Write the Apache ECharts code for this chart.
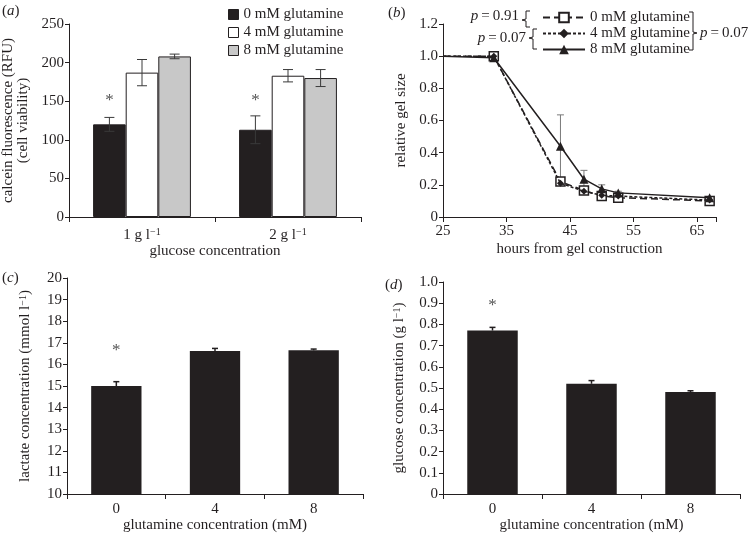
<!DOCTYPE html>
<html><head><meta charset="utf-8">
<script src="https://cdn.jsdelivr.net/npm/echarts@6/dist/echarts.min.js"></script>
<style>html,body{margin:0;padding:0;background:#fff}#c{width:748px;height:538px}</style>
</head><body><div id="c"></div>
<script>
// ---------- Panel (a) ----------
const glucoseCats = ['1 g l', '2 g l'];           // each followed by superscript −1
const glutNames = ['0 mM glutamine', '4 mM glutamine', '8 mM glutamine'];
const calcein0 = [120, 113];
const calcein4 = [187, 183];
const calcein8 = [208, 180];
const calceinErr0 = [9, 18];
const calceinErr4 = [17, 8];
const calceinErr8 = [3, 11];
const calceinStar = [151, 151];

// ---------- Panel (b) ----------
const hours = [25, 33, 43.5, 47.2, 50, 52.6, 67];
const gel0 = [1, 1.0, 0.22, 0.165, 0.13, 0.12, 0.10];
const gel4 = [1, 1.0, 0.21, 0.16, 0.135, 0.13, 0.105];
const gel8 = [1, 0.99, 0.44, 0.235, 0.175, 0.15, 0.12];
const gelErr8 = [0, 0, 0.195, 0.055, 0.025, 0.01, 0.005];
const gelIds = ['b0', 'b4', 'b8'];
const hourTicks = [25, 35, 45, 55, 65];
const pLeft1 = '0.91', pLeft2 = '0.07', pRight = '0.07';

// ---------- Panel (c) ----------
const glutCats = ['0', '4', '8'];
const lactate = [15.0, 16.62, 16.65];
const lactateErr = [0.2, 0.12, 0.06];
const lactateStar = [16.62, null, null];

// ---------- Panel (d) ----------
const glucose = [0.771, 0.52, 0.481];
const glucoseErr = [0.015, 0.015, 0.006];
const glucoseStar = [0.89, null, null];

const FONT = "'Liberation Serif','Times New Roman',serif";
const INK = '#231f20';

const chart = echarts.init(document.getElementById('c'), null, {renderer: 'canvas'});

function fmt1(v) { return v === 0 ? '0' : v.toFixed(1); }
const SUP = {sup: {fontFamily: FONT, fontSize: 10, color: INK, verticalAlign: 'top', padding: [0, 0, 6, 0]}};

function yAx(gi, min, max, interval, name, nameGap, formatter) {
  return {
    type: 'value', gridIndex: gi, min, max, interval,
    name, nameLocation: 'middle', nameGap, nameRotate: 90,
    nameTextStyle: {fontFamily: FONT, fontSize: 15, color: INK, lineHeight: 15, rich: SUP},
    axisLine: {show: true, lineStyle: {color: INK, width: 1}},
    axisTick: {show: true, length: 4, lineStyle: {color: INK, width: 1}},
    axisLabel: {fontFamily: FONT, fontSize: 15, color: INK, margin: 5, formatter},
    splitLine: {show: false}
  };
}
function xCat(gi, data, name, nameGap, margin, formatter) {
  return {
    type: 'category', gridIndex: gi, data,
    name, nameLocation: 'middle', nameGap,
    nameTextStyle: {fontFamily: FONT, fontSize: 15, color: INK},
    axisLine: {show: true, lineStyle: {color: INK, width: 1}},
    axisTick: {show: true, length: 5, lineStyle: {color: INK, width: 1}},
    axisLabel: {fontFamily: FONT, fontSize: 15, color: INK, margin, formatter, rich: SUP},
    splitLine: {show: false}
  };
}

// error bars: data rows [x, value, err]
function errSeries(xi, yi, rows, opts) {
  return {
    type: 'custom', xAxisIndex: xi, yAxisIndex: yi, z: opts.z || 5,
    data: rows, silent: true,
    renderItem: function (params, api) {
      const xv = api.value(0), v = api.value(1), e = api.value(2);
      if (!e) return null;
      const base = api.coord([xv, v]);
      const x = base[0] + (opts.offset ? opts.offset(api) : 0);
      const top = api.coord([xv, v + e])[1];
      const bot = opts.upperOnly ? base[1] : api.coord([xv, v - e])[1];
      const h = opts.cap / 2;
      const st = {stroke: opts.color, lineWidth: opts.width || 1};
      const ch = [
        {type: 'line', shape: {x1: x, y1: top, x2: x, y2: bot}, style: st},
        {type: 'line', shape: {x1: x - h, y1: top, x2: x + h, y2: top}, style: st}
      ];
      if (!opts.upperOnly) ch.push({type: 'line', shape: {x1: x - h, y1: bot, x2: x + h, y2: bot}, style: st});
      return {type: 'group', children: ch};
    }
  };
}
function starSeries(xi, yi, rows, offset) {
  return {
    type: 'custom', xAxisIndex: xi, yAxisIndex: yi, z: 6, silent: true,
    data: rows,
    renderItem: function (params, api) {
      const v = api.value(1);
      if (v == null || isNaN(v)) return null;
      const p = api.coord([api.value(0), v]);
      return {type: 'text', x: p[0] + (offset ? offset(api) : 0), y: p[1],
        style: {text: '*', fill: '#555', fontSize: 17, fontFamily: FONT, align: 'center', verticalAlign: 'middle'}};
    }
  };
}

const GAP_A = 0.33;
function offA(k) {
  return function (api) { const band = api.size([1, 0])[0]; const bw = band * (1 - GAP_A) / 3; return (k - 1) * bw; };
}
const rows = (vals, errs) => vals.map((v, i) => [i, v, errs[i]]);

const rich = {i: {fontStyle: 'italic', fontFamily: FONT, fontSize: 15, fill: INK}, n: {fontFamily: FONT, fontSize: 15, fill: INK}};
function ptext(x, y, p, align) {
  return {type: 'text', x, y, style: {text: '{i|p}{n|\u2009=\u2009' + p + '}', rich, align: align || 'left', verticalAlign: 'middle', fontFamily: FONT, fontSize: 15, fill: INK}};
}
function plabel(x, y, l) {
  return {type: 'text', x, y, style: {text: '{n|(}{i|' + l + '}{n|)}', rich, verticalAlign: 'middle', fontFamily: FONT, fontSize: 15, fill: INK}};
}
const brStyle = {stroke: INK, lineWidth: 1, fill: null};
const supFmt = v => v + '{sup|\u22121}';

const option = {
  backgroundColor: '#fff',
  animation: false,
  textStyle: {fontFamily: FONT},
  grid: [
    {left: 67, top: 24, width: 294, height: 193},
    {left: 443, top: 24, width: 273, height: 193},
    {left: 67, top: 278, width: 296, height: 216},
    {left: 443, top: 282, width: 297, height: 212}
  ],
  xAxis: [
    xCat(0, glucoseCats, 'glucose concentration', 26, 10, supFmt),
    {
      type: 'value', gridIndex: 1, min: 25, max: 68, interval: 10,
      name: 'hours from gel construction', nameLocation: 'middle', nameGap: 25,
      nameTextStyle: {fontFamily: FONT, fontSize: 15, color: INK},
      axisLine: {show: true, onZero: false, lineStyle: {color: INK, width: 1}},
      axisTick: {show: true, length: 5, lineStyle: {color: INK, width: 1}},
      axisLabel: {fontFamily: FONT, fontSize: 15, color: INK, margin: 7,
        formatter: v => hourTicks.indexOf(v) >= 0 ? String(v) : ''},
      splitLine: {show: false}
    },
    xCat(2, glutCats, 'glutamine concentration (mM)', 20, 8),
    xCat(3, glutCats, 'glutamine concentration (mM)', 20, 8)
  ],
  yAxis: [
    yAx(0, 0, 250, 50, 'calcein fluorescence (RFU)\n(cell viability)', 38),
    yAx(1, 0, 1.2, 0.2, 'relative gel size', 34, fmt1),
    yAx(2, 10, 20, 1, 'lactate concentration (mmol l{sup|\u22121})', 34),
    yAx(3, 0, 1.0, 0.1, 'glucose concentration (g l{sup|\u22121})', 36, fmt1)
  ],
  legend: [
    {
      data: glutNames, left: 223, top: 2, orient: 'vertical', icon: 'rect',
      itemWidth: 10, itemHeight: 10, itemGap: 3, selectedMode: false,
      itemStyle: {borderColor: INK, borderWidth: 1},
      textStyle: {fontFamily: FONT, fontSize: 15, color: INK}
    },
    {
      data: gelIds, left: 537, top: 5, orient: 'vertical',
      itemWidth: 42, itemHeight: 12, itemGap: 1, selectedMode: false,
      formatter: n => glutNames[gelIds.indexOf(n)],
      textStyle: {fontFamily: FONT, fontSize: 15, color: INK}
    }
  ],
  series: [
    // panel a bars
    {name: glutNames[0], type: 'bar', xAxisIndex: 0, yAxisIndex: 0, data: calcein0, barGap: '0%', barCategoryGap: '33%',
      itemStyle: {color: INK, borderColor: INK, borderWidth: 1}},
    {name: glutNames[1], type: 'bar', xAxisIndex: 0, yAxisIndex: 0, data: calcein4, barGap: '0%', barCategoryGap: '33%',
      itemStyle: {color: '#ffffff', borderColor: INK, borderWidth: 1}},
    {name: glutNames[2], type: 'bar', xAxisIndex: 0, yAxisIndex: 0, data: calcein8, barGap: '0%', barCategoryGap: '33%',
      itemStyle: {color: '#c8c8c8', borderColor: INK, borderWidth: 1}},
    errSeries(0, 0, rows(calcein0, calceinErr0), {offset: offA(0), cap: 10, color: '#3a3a3a'}),
    errSeries(0, 0, rows(calcein4, calceinErr4), {offset: offA(1), cap: 10, color: '#3a3a3a'}),
    errSeries(0, 0, rows(calcein8, calceinErr8), {offset: offA(2), cap: 10, color: '#3a3a3a'}),
    starSeries(0, 0, calceinStar.map((v, i) => [i, v]), offA(0)),

    // panel b lines
    errSeries(1, 1, hours.map((h, i) => [h, gel8[i], gelErr8[i]]), {cap: 7, color: '#7a7a7a', z: 1}),
    {name: gelIds[0], type: 'line', xAxisIndex: 1, yAxisIndex: 1, z: 3,
      data: hours.map((h, i) => i === 0 ? {value: [h, gel0[i]], symbol: 'none'} : [h, gel0[i]]),
      symbol: 'rect', symbolSize: 9, showAllSymbol: true,
      lineStyle: {color: INK, width: 1.5, type: [7, 4]},
      itemStyle: {color: '#ffffff', borderColor: INK, borderWidth: 1.5}},
    {name: gelIds[1], type: 'line', xAxisIndex: 1, yAxisIndex: 1, z: 4,
      data: hours.map((h, i) => i === 0 ? {value: [h, gel4[i]], symbol: 'none'} : [h, gel4[i]]),
      symbol: 'diamond', symbolSize: 7, showAllSymbol: true,
      lineStyle: {color: INK, width: 1.5, type: [3, 2]},
      itemStyle: {color: INK, borderColor: INK, borderWidth: 0}},
    {name: gelIds[2], type: 'line', xAxisIndex: 1, yAxisIndex: 1, z: 5,
      data: hours.map((h, i) => i === 0 ? {value: [h, gel8[i]], symbol: 'none'} : [h, gel8[i]]),
      symbol: 'triangle', symbolSize: 9, showAllSymbol: true,
      lineStyle: {color: INK, width: 1.5, type: 'solid'},
      itemStyle: {color: INK, borderColor: INK, borderWidth: 0}},

    // panel c
    {name: 'lactate', type: 'bar', xAxisIndex: 2, yAxisIndex: 2, data: lactate, barWidth: '51%',
      itemStyle: {color: INK}},
    errSeries(2, 2, rows(lactate, lactateErr), {cap: 6, color: INK, upperOnly: true, width: 1.5}),
    starSeries(2, 2, lactateStar.map((v, i) => [i, v])),

    // panel d
    {name: 'glucose', type: 'bar', xAxisIndex: 3, yAxisIndex: 3, data: glucose, barWidth: '51%',
      itemStyle: {color: INK}},
    errSeries(3, 3, rows(glucose, glucoseErr), {cap: 6, color: INK, upperOnly: true, width: 1.5}),
    starSeries(3, 3, glucoseStar.map((v, i) => [i, v]))
  ],
  graphic: [
    plabel(2, 11, 'a'),
    plabel(388, 13, 'b'),
    plabel(2, 278, 'c'),
    plabel(385, 285, 'd'),
    ptext(519, 16, pLeft1, 'right'),
    {type: 'polyline', shape: {points: [[530, 11], [526, 11], [526, 19], [522, 20], [526, 21], [526, 27], [530, 27]]}, style: brStyle},
    ptext(526, 38, pLeft2, 'right'),
    {type: 'polyline', shape: {points: [[537, 29], [533, 29], [533, 37], [529, 38], [533, 39], [533, 49], [537, 49]]}, style: brStyle},
    {type: 'polyline', shape: {points: [[689, 12], [693, 12], [693, 32], [697, 33], [693, 34], [693, 50], [689, 50]]}, style: brStyle},
    ptext(700, 33, pRight, 'left')
  ]
};
chart.setOption(option);
</script>
</body></html>
